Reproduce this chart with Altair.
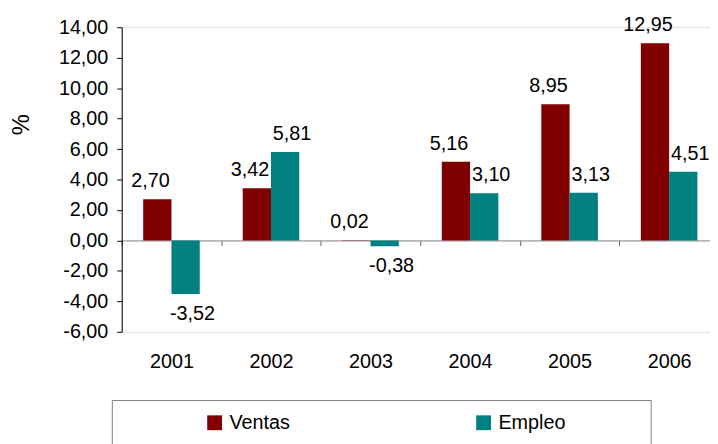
import altair as alt
import pandas as pd

years = ["2001", "2002", "2003", "2004", "2005", "2006"]
ventas = [2.70, 3.42, 0.02, 5.16, 8.95, 12.95]
empleo = [-3.52, 5.81, -0.38, 3.10, 3.13, 4.51]
series = ["Ventas", "Empleo"]
colors = ["#800000", "#008080"]
y_ticks = [-6, -4, -2, 0, 2, 4, 6, 8, 10, 12, 14]

rows = []
for i, yr in enumerate(years):
    rows.append({"year": yr, "serie": "Ventas", "valor": ventas[i]})
    rows.append({"year": yr, "serie": "Empleo", "valor": empleo[i]})
df = pd.DataFrame(rows)

FONT = "Liberation Sans"
FMT = "replace(replace(format({v}, '.2f'), '.', ','), '\u2212', '-')"

x_scale = alt.Scale(paddingInner=0, paddingOuter=0)
xo_scale = alt.Scale(paddingInner=0, paddingOuter=0.76)
y_scale = alt.Scale(domain=[-6, 14], nice=False, zero=False)

x_enc = alt.X(
    "year:N",
    sort=years,
    scale=x_scale,
    axis=alt.Axis(
        title=None,
        orient="bottom",
        offset=-92.4,
        domainColor="#808080",
        tickColor="#606060",
        tickSize=5,
        tickBand="extent",
        labelAngle=0,
        labelFont=FONT,
        labelFontSize=20,
        labelColor="black",
        labelPadding=108,
    ),
)
xo_enc = alt.XOffset("serie:N", sort=series, scale=xo_scale)
y_enc = alt.Y(
    "valor:Q",
    scale=y_scale,
    axis=alt.Axis(
        values=y_ticks,
        labelExpr=FMT.format(v="datum.value"),
        grid=False,
        domainColor="black",
        tickColor="black",
        tickSize=5,
        labelFont=FONT,
        labelFontSize=20,
        labelColor="black",
        labelPadding=9,
        title="%",
        titleFont=FONT,
        titleFontSize=24,
        titleFontWeight="normal",
        titleColor="black",
        titleAngle=270,
        titleX=-101,
        titleY=98,
        titleAlign="center",
        titleBaseline="middle",
    ),
)

base = alt.Chart(df).transform_calculate(etiqueta=FMT.format(v="datum.valor"))

pad = "\u00a0" * 13 + "\u200b"
bars = base.mark_bar().encode(
    x=x_enc,
    xOffset=xo_enc,
    y=y_enc,
    color=alt.Color(
        "serie:N",
        sort=series,
        scale=alt.Scale(domain=series, range=colors),
        legend=alt.Legend(
            title=" ",
            titleFontSize=1,
            titleOrient="left",
            titlePadding=81,
            orient="none",
            legendX=-10,
            legendY=377,
            direction="horizontal",
            strokeColor="#808080",
            padding=13,
            symbolType="square",
            symbolSize=225,
            symbolStrokeWidth=0,
            symbolOpacity=1,
            labelFont=FONT,
            labelFontSize=20,
            labelColor="black",
            labelOffset=5,
            labelLimit=400,
            columnPadding=185,
            labelExpr="datum.label == 'Empleo' ? 'Empleo" + pad + "' : datum.label",
        ),
    ),
)

layers = [bars]
for serie, dx in (("Ventas", -7), ("Empleo", 7)):
    for cond, baseline, dy in (("datum.valor >= 0", "alphabetic", -12), ("datum.valor < 0", "top", 10)):
        layers.append(
            base.transform_filter(f"datum.serie == '{serie}' && {cond}")
            .mark_text(font=FONT, fontSize=20, color="black", baseline=baseline, dy=dy, dx=dx)
            .encode(x=x_enc, xOffset=xo_enc, y=y_enc, text="etiqueta:N")
        )

chart = (
    alt.layer(*layers)
    .properties(
        width=604,
        height=308,
        autosize=alt.AutoSizeParams(type="none"),
        padding={"left": 115, "top": 17, "right": -9, "bottom": 111},
    )
    .configure_view(stroke="transparent")
    .configure(background="white")
)

chart.save("out.html", embed_options={"renderer": "svg", "actions": False})
